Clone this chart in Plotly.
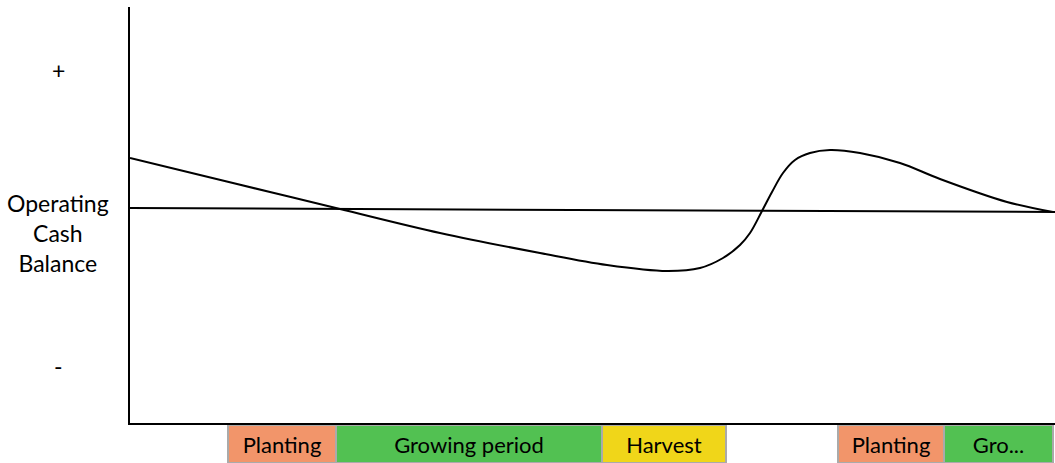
import plotly.graph_objects as go

# Cash balance curve (x: time units, y: balance units, zero line ~ 213)
curve_x = [0, 70, 140, 210, 310, 410, 477, 537, 570, 593, 610, 620, 632, 642, 653, 665, 680, 700, 730, 770, 810, 877, 923]
curve_y = [265, 248, 231, 214, 190, 170, 158, 152, 155, 165, 178, 190, 212, 231, 250, 263, 270, 273, 270, 260, 244, 221, 211]

# Reference (break-even) line
ref_x = [0, 925]
ref_y = [215, 211]

# Season phases
phase_names = ["Planting", "Growing period", "Harvest", "Planting", "Gro..."]
phase_start = [98, 206, 472, 708, 814]
phase_end = [206, 472, 596, 814, 923]
phase_colors = ["#F2956A", "#52C152", "#F0D619", "#F2956A", "#52C152"]

# Side labels (y positions in balance units)
side_labels = ["+", "Operating<br>Cash<br>Balance", "-"]
side_label_y = [353, 190, 57]

FONT = "Lato, 'Open Sans', sans-serif"

fig = go.Figure()

fig.add_trace(go.Scatter(x=ref_x, y=ref_y, mode="lines",
                         line=dict(color="black", width=2), hoverinfo="skip",
                         showlegend=False))
fig.add_trace(go.Scatter(x=curve_x, y=curve_y, mode="lines",
                         line=dict(color="black", width=2, shape="spline", smoothing=1.0),
                         showlegend=False))

fig.add_trace(go.Bar(
    y=["p"] * len(phase_names),
    x=[e - s for s, e in zip(phase_start, phase_end)],
    base=phase_start,
    orientation="h",
    marker=dict(color=phase_colors, line=dict(color="#AAAAAA", width=2)),
    text=phase_names,
    textposition="inside",
    insidetextanchor="middle",
    textfont=dict(family=FONT, size=22, color="black"),
    width=1.0,
    xaxis="x", yaxis="y2",
    showlegend=False,
    cliponaxis=False,
))

H = 456.0
annotations = []
for txt, yv in zip(side_labels, side_label_y):
    annotations.append(dict(x=-72 / 925, xref="paper", y=yv, yref="y", text=txt,
                            showarrow=False, font=dict(size=23, color="black"),
                            xanchor="center", yanchor="middle", align="center"))

fig.update_layout(
    width=1055, height=463,
    margin=dict(l=130, r=0, t=7, b=0),
    paper_bgcolor="white", plot_bgcolor="white",
    font=dict(family=FONT, size=20, color="black"),
    barmode="overlay",
    xaxis=dict(range=[0, 925], showgrid=False, zeroline=False, showticklabels=False,
               ticks="", showline=True, linecolor="black", linewidth=2, anchor="y"),
    yaxis=dict(range=[0, 416], domain=[40 / H, 1], showgrid=False, zeroline=False,
               showticklabels=False, ticks="", showline=True, linecolor="black", linewidth=2),
    yaxis2=dict(domain=[0, 38 / H], showgrid=False, zeroline=False, showticklabels=False,
                ticks="", range=[-0.5, 0.5], anchor="x"),
    uniformtext=dict(minsize=10, mode="show"),
    annotations=annotations,
)

fig.write_html("out.html", config={"displayModeBar": False},
               post_script="document.body.style.margin='0';")
